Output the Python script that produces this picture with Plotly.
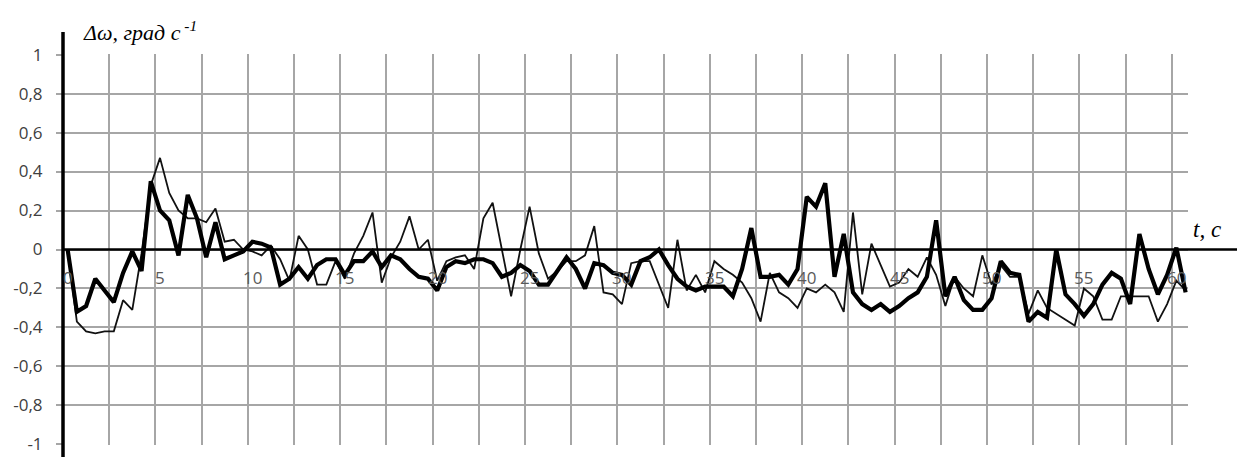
import plotly.graph_objects as go

# Measured angular-velocity deviation, sampled every 0.5 s (0 .. 60.5 s)
thick_values = [
    0.00, -0.32, -0.29, -0.15, -0.21, -0.27, -0.12, -0.01, -0.11, 0.35,
    0.20, 0.15, -0.03, 0.28, 0.16, -0.04, 0.14, -0.05, -0.03, -0.01,
    0.04, 0.03, 0.01, -0.18, -0.15, -0.09, -0.15, -0.08, -0.05, -0.05,
    -0.13, -0.06, -0.06, -0.01, -0.09, -0.03, -0.05, -0.10, -0.14, -0.15,
    -0.21, -0.09, -0.06, -0.07, -0.05, -0.05, -0.07, -0.14, -0.12, -0.08,
    -0.11, -0.18, -0.18, -0.11, -0.04, -0.10, -0.20, -0.07, -0.08, -0.12,
    -0.13, -0.18, -0.06, -0.04, 0.00, -0.08, -0.15, -0.19, -0.21, -0.19,
    -0.19, -0.19, -0.24, -0.10, 0.11, -0.14, -0.14, -0.13, -0.18, -0.10,
    0.27, 0.22, 0.34, -0.14, 0.08, -0.22, -0.28, -0.31, -0.28, -0.32,
    -0.29, -0.25, -0.22, -0.14, 0.15, -0.24, -0.14, -0.26, -0.31, -0.31,
    -0.25, -0.06, -0.12, -0.13, -0.37, -0.32, -0.35, 0.00, -0.23, -0.28,
    -0.34, -0.28, -0.18, -0.12, -0.15, -0.28, 0.08, -0.10, -0.23, -0.13,
    0.01, -0.22,
]
thin_values = [
    0.00, -0.37, -0.42, -0.43, -0.42, -0.42, -0.26, -0.31, -0.02, 0.33,
    0.47, 0.29, 0.20, 0.16, 0.16, 0.14, 0.21, 0.04, 0.05, 0.00,
    -0.01, -0.03, 0.02, -0.05, -0.16, 0.07, 0.00, -0.18, -0.18, -0.06,
    -0.15, -0.02, 0.07, 0.19, -0.17, -0.04, 0.04, 0.17, 0.00, 0.05,
    -0.16, -0.06, -0.04, -0.03, -0.10, 0.16, 0.24, 0.00, -0.24, 0.00,
    0.22, -0.02, -0.15, -0.11, -0.06, -0.06, -0.03, 0.12, -0.22, -0.23,
    -0.28, -0.07, -0.06, -0.06, -0.18, -0.30, 0.05, -0.21, -0.13, -0.22,
    -0.06, -0.10, -0.13, -0.17, -0.25, -0.37, -0.12, -0.22, -0.25, -0.30,
    -0.20, -0.22, -0.18, -0.22, -0.32, 0.19, -0.23, 0.03, -0.08, -0.19,
    -0.17, -0.10, -0.14, -0.04, -0.13, -0.29, -0.14, -0.20, -0.24, -0.03,
    -0.18, -0.08, -0.14, -0.14, -0.33, -0.21, -0.30, -0.33, -0.36, -0.39,
    -0.20, -0.24, -0.36, -0.36, -0.24, -0.24, -0.24, -0.24, -0.37, -0.28,
    -0.16, -0.21,
]
time_s = [i * 0.5 for i in range(len(thick_values))]

x_tick_vals = [0, 5, 10, 15, 20, 25, 30, 35, 40, 45, 50, 55, 60]
x_tick_text = ["0", "5", "10", "15", "20", "25", "30", "35", "40", "45", "50", "55", "60"]
y_tick_vals = [1, 0.8, 0.6, 0.4, 0.2, 0, -0.2, -0.4, -0.6, -0.8, -1]
y_tick_text = ["1", "0,8", "0,6", "0,4", "0,2", "0", "-0,2", "-0,4", "-0,6", "-0,8", "-1"]

y_title = "<i>Δω, град с</i><sup><i> -1</i></sup>"
x_title = "<i>t, c</i>"

fig = go.Figure()
fig.add_trace(go.Scatter(x=time_s, y=thin_values, mode="lines",
                         line=dict(color="#111111", width=1.8), hoverinfo="skip"))
fig.add_trace(go.Scatter(x=time_s, y=thick_values, mode="lines",
                         line=dict(color="#000000", width=4.2), hoverinfo="skip"))

grid_col = "#a6a6a6"
# page has an 8px body margin, so the figure is shifted/shrunk by 8px
fig.update_layout(
    width=1237, height=449,
    margin=dict(l=55, r=57, t=46, b=12),
    paper_bgcolor="white", plot_bgcolor="white",
    showlegend=False,
    xaxis=dict(range=[-0.25, 60.63], tick0=-0.25, dtick=2.5, showgrid=True,
               gridcolor=grid_col, gridwidth=1.5, showticklabels=False,
               zeroline=False, showline=False, ticks=""),
    yaxis=dict(range=[-1.003, 1.003], tickvals=y_tick_vals, ticktext=y_tick_text,
               showgrid=True, gridcolor=grid_col, gridwidth=1.5, zeroline=False,
               showline=False, ticks="outside", ticklen=6, tickcolor=grid_col,
               tickwidth=1.5, ticklabelstandoff=10, automargin=False,
               tickfont=dict(family="Open Sans", size=17, color="#404040")),
)

# x-axis line through zero, extending beyond the plot area
fig.add_shape(type="line", xref="paper", yref="y", x0=0, x1=1.046, y0=0, y1=0,
              line=dict(color="black", width=2.6))
# y-axis line, extending beyond the plot area
fig.add_shape(type="line", xref="paper", yref="paper", x0=0, x1=0, y0=-0.035, y1=1.056,
              line=dict(color="black", width=3.5))

for v, txt in zip(x_tick_vals, x_tick_text):
    fig.add_annotation(x=v, y=0, xref="x", yref="y", text=txt, showarrow=False,
                       yanchor="top", yshift=-14, xanchor="center",
                       font=dict(family="Open Sans", size=17, color="#5a5a5a"))

fig.add_annotation(x=0.016, y=1.058, xref="paper", yref="paper", text=y_title,
                   showarrow=False, xanchor="left", yanchor="middle",
                   font=dict(family="Liberation Serif", size=22, color="black"))
fig.add_annotation(x=1.003, y=0.55, xref="paper", yref="paper", text=x_title,
                   showarrow=False, xanchor="left", yanchor="middle",
                   font=dict(family="Liberation Serif", size=23, color="black"))

fig.write_html("out.html")
